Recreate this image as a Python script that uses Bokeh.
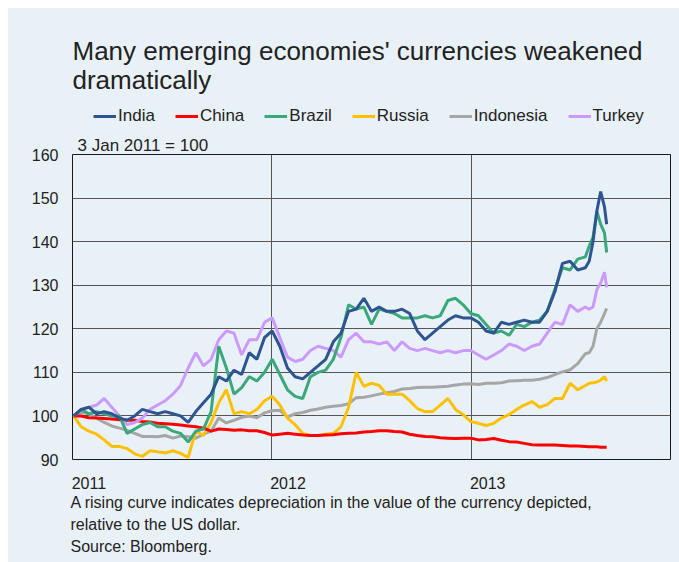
import pandas as pd
from datetime import datetime, timedelta
from bokeh.plotting import figure
from bokeh.layouts import column
from bokeh.models import Legend, LegendItem, FixedTicker, Range1d, Title, Label
from bokeh.embed import file_html
from bokeh.resources import INLINE

# ---- data (3 Jan 2011 = 100), biweekly then weekly in Aug/Sep 2013 ----
dates = list(pd.date_range("2011-01-03", "2013-07-29", freq="14D")) + list(
    pd.to_datetime(["2013-08-05", "2013-08-12", "2013-08-19", "2013-08-26", "2013-09-02", "2013-09-06"]))

india = [100, 101.5, 102, 100.5, 101, 100.5, 99.5, 99, 100, 101.5,
         101, 100.5, 101, 100.5, 100, 98.5, 101, 103, 105, 109,
         108, 110.5, 109.5, 114.5, 113, 118, 119.5, 116, 111, 109,
         108.5, 110, 111.5, 113, 117, 119, 124, 124.5, 127, 124,
         125, 124, 124, 124.5, 123.5, 119.5, 117.5, 119, 120.5, 122,
         123, 122.5, 122.5, 121.5, 119.5, 119, 121.5, 121, 121.5, 122,
         121.5, 121.5, 124, 128.5, 135, 135.5, 133.5, 134,
         135.5, 140, 147, 151.5, 148, 144]
china = [100, 100, 99.6, 99.5, 99.4, 99.3, 99.1, 99, 99, 98.7,
         98.6, 98.3, 98.2, 98.1, 97.9, 97.7, 97.5, 97.2, 96.5, 97,
         96.9, 96.7, 96.8, 96.6, 96.6, 96.2, 95.6, 95.8, 96, 95.8,
         95.6, 95.5, 95.5, 95.6, 95.7, 95.9, 96, 96.1, 96.3, 96.4,
         96.6, 96.6, 96.4, 96.3, 95.8, 95.5, 95.3, 95.2, 95, 94.9,
         94.8, 94.9, 94.9, 94.5, 94.6, 94.8, 94.4, 94.1, 94, 93.7,
         93.4, 93.3, 93.3, 93.3, 93.2, 93.1, 93.1, 93,
         92.9, 92.9, 92.9, 92.8, 92.8, 92.8]
brazil = [100, 101.5, 100.5, 101, 100.5, 100, 100, 96, 97, 98,
          98.5, 97.5, 97.5, 96.5, 96, 94, 96.5, 97, 101, 116,
          111, 105, 106.5, 109, 108, 110, 113, 109.5, 106, 104.5,
          104, 109, 110, 110.5, 113, 118, 125.5, 124.5, 125, 121,
          124.5, 124, 123.5, 122.5, 122.5, 122.5, 123, 122.5, 123, 126.5,
          127, 125.5, 123.5, 123, 121, 119, 119.5, 118.5, 121, 120.5,
          121.5, 122, 124, 129, 134, 133.5, 136, 136.5,
          139, 141, 147, 144, 142, 137.5]
russia = [100, 97.5, 96.5, 95.8, 94.5, 93, 93, 92.5, 91.3, 90.7,
          92, 91.8, 91.5, 92, 91.4, 90.5, 96.5, 95.5, 98.5, 103,
          106, 100.5, 101, 100.5, 101.5, 103.5, 104.5, 102.5, 99.5, 98,
          96, 95.5, 95.5, 95.8, 96, 97.5, 102, 110, 106.8, 107.5,
          107, 105, 105, 105, 103.5, 101.7, 101, 101, 102.5, 104,
          101.5, 100.3, 98.7, 98.3, 97.8, 98.3, 99.5, 100.3, 101.5, 102.5,
          103.3, 102, 102.6, 104, 104, 107.5, 106, 107,
          107.5, 107.6, 107.8, 108.2, 109, 108]
indonesia = [100, 100.8, 100.5, 99.5, 98.5, 97.7, 97.2, 96.7, 96, 95.3,
             95.3, 95.2, 95.5, 94.9, 95.4, 95.2, 94.9, 95.8, 96.5, 99.5,
             98.4, 99, 99.7, 100, 99.6, 100.7, 101.2, 101.3, 99.8, 100.5,
             100.8, 101.3, 101.6, 102, 102.2, 102.4, 102.8, 104.2, 104.3, 104.6,
             105, 105.3, 105.6, 106.2, 106.3, 106.5, 106.6, 106.6, 106.7, 106.8,
             107.1, 107.3, 107.4, 107.2, 107.5, 107.5, 107.6, 108, 108.1, 108.2,
             108.2, 108.4, 108.8, 109.5, 110.1, 110.6, 112, 114.3,
             114.5, 116, 120, 121.5, 123.5, 124.7]
turkey = [100, 101.5, 102, 102.5, 104, 102, 100, 98, 98.5, 99.5,
          101.5, 102.5, 103.5, 105, 107, 111, 114.5, 111.5, 113, 117.5,
          119.5, 119, 114, 117.5, 117.5, 121.5, 122.5, 118, 113.5, 112.5,
          113, 115, 116, 115.5, 115, 113.5, 117.5, 119, 117, 117,
          116.5, 117, 115, 117, 115.5, 115, 115.5, 115, 114.5, 115,
          114.5, 115, 115, 114, 113, 114, 115, 116.5, 116, 115,
          116, 116.5, 119, 121.5, 121, 125.5, 124, 125,
          124.5, 125, 129, 130.5, 133, 129.5]

names = ["India", "China", "Brazil", "Russia", "Indonesia", "Turkey"]
series = [india, china, brazil, russia, indonesia, turkey]
colors = ["#2e5590", "#ff0000", "#3aa87b", "#ffc000", "#a6a6a6", "#cc99ff"]
draw_order = ["Indonesia", "Russia", "China", "Turkey", "Brazil", "India"]

year_ticks = [datetime(2011, 1, 1), datetime(2012, 1, 1), datetime(2013, 1, 1)]
year_labels = ["2011", "2012", "2013"]
y_ticks = [90, 100, 110, 120, 130, 140, 150, 160]

title_lines = ["Many emerging economies' currencies weakened", "dramatically"]
subtitle = "3 Jan 2011 = 100"
notes = ("A rising curve indicates depreciation in the value of the currency depicted,\n"
         "relative to the US dollar.\n"
         "Source: Bloomberg.")

BG = "#e9f1f8"
TXT = "#222222"
FONT = "Liberation Sans"


def ms(d):
    return (d - datetime(1970, 1, 1)).total_seconds() * 1000


# ---------------- header: title + legend (frame aligned with the chart frame) ----------------
head = figure(width=671, height=120, output_backend="svg", toolbar_location=None,
              x_axis_location=None, y_axis_location=None,
              x_range=Range1d(0, 1), y_range=Range1d(0, 1), min_border=0)
head.background_fill_color = BG
head.border_fill_color = BG
head.outline_line_color = None
head.grid.visible = False

for txt, yy in zip(title_lines, [78, 49]):
    head.add_layout(Label(x=0, y=yy, x_units="screen", y_units="screen", text=txt,
                          text_font=FONT, text_font_size="26px", text_color=TXT,
                          text_align="left", text_baseline="alphabetic"))

# legend keys: the same series, drawn outside this header's visible range
keys = [head.line(dates, s, line_color=c, line_width=3) for s, c in zip(series, colors)]
legend = Legend(items=[LegendItem(label=nm, renderers=[r]) for nm, r in zip(names, keys)],
                orientation="horizontal", location=(21, 2),
                label_text_font=FONT, label_text_font_size="17px", label_text_color=TXT,
                glyph_width=23, glyph_height=20, label_height=20, label_standoff=2,
                spacing=20, padding=0, margin=0, border_line_color=None,
                background_fill_alpha=0)
head.add_layout(legend)

# ---------------- main chart ----------------
p = figure(width=671, height=434, x_axis_type="datetime", output_backend="svg",
           toolbar_location=None, title=None,
           x_range=Range1d(datetime(2011, 1, 1), datetime(2014, 1, 1)),
           y_range=Range1d(90, 160),
           min_border_left=64, min_border_right=9, min_border_top=26, min_border_bottom=103)
p.background_fill_color = BG
p.border_fill_color = BG
p.outline_line_color = "#1a1a1a"
p.outline_line_width = 1

p.xgrid.ticker = FixedTicker(ticks=[ms(d) for d in year_ticks])
p.xgrid.grid_line_color = "#555555"
p.ygrid.grid_line_color = "#555555"

# x axis: labels left-aligned at the start of each year (tick shifted by half a label)
shift = timedelta(days=30)
xt = [ms(d + shift) for d in year_ticks]
p.xaxis.ticker = FixedTicker(ticks=xt)
p.xaxis.major_label_overrides = {t: lbl for t, lbl in zip(xt, year_labels)}
p.xaxis.axis_line_color = None
p.xaxis.major_tick_line_color = None
p.xaxis.minor_tick_line_color = None
p.xaxis.major_tick_out = 0
p.xaxis.major_label_standoff = 17
p.xaxis.major_label_text_font = FONT
p.xaxis.major_label_text_font_size = "16px"
p.xaxis.major_label_text_color = TXT

p.yaxis.ticker = FixedTicker(ticks=y_ticks)
p.yaxis.axis_line_color = None
p.yaxis.major_tick_line_color = None
p.yaxis.minor_tick_line_color = None
p.yaxis.major_tick_out = 0
p.yaxis.major_label_standoff = 14
p.yaxis.major_label_text_font = FONT
p.yaxis.major_label_text_font_size = "16px"
p.yaxis.major_label_text_color = TXT

for nm in draw_order:
    k = names.index(nm)
    p.line(dates, series[k], line_color=colors[k], line_width=3)

p.add_layout(Title(text=subtitle, align="left", offset=5, standoff=0,
                   text_font=FONT, text_font_size="17px", text_font_style="normal",
                   text_color=TXT), "above")
p.add_layout(Title(text=notes, align="left", offset=-2, standoff=1,
                   text_font=FONT, text_font_size="16px", text_font_style="normal",
                   text_line_height=1.3, text_color=TXT), "below")

layout = column(head, p, margin=(8, 0, 0, 8), spacing=0,
                styles={"background-color": BG})
open("out.html", "w").write(file_html(layout, INLINE))
